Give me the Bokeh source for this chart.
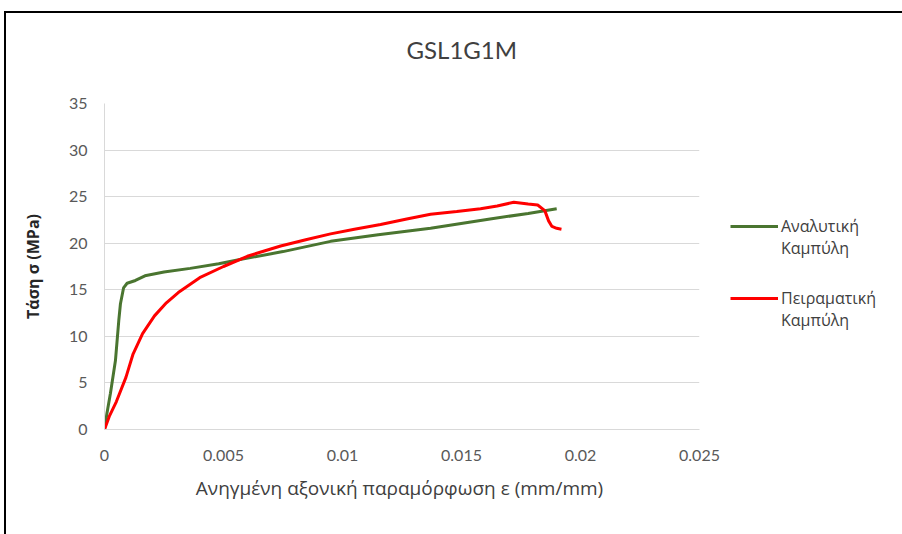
from bokeh.plotting import figure
from bokeh.models import Legend, LegendItem, FixedTicker, NumeralTickFormatter, Title
from bokeh.embed import file_html
from bokeh.resources import INLINE

# ---- data ----
green_x = [0, 0.0001, 0.00025, 0.00046, 0.0006, 0.00067, 0.0008, 0.00095, 0.0013, 0.0017,
           0.0025, 0.0036, 0.0048, 0.0058, 0.0075, 0.0095, 0.0115, 0.0137, 0.0162, 0.0178, 0.0190]
green_y = [0, 1.7, 3.9, 7.4, 11.7, 13.5, 15.2, 15.7, 16.0, 16.5,
           16.9, 17.3, 17.8, 18.3, 19.1, 20.2, 20.9, 21.6, 22.6, 23.2, 23.7]

red_x = [0, 0.0002, 0.0005, 0.0009, 0.0012, 0.0016, 0.0021, 0.0026, 0.0031, 0.004,
         0.005, 0.006, 0.0074, 0.0085, 0.0095, 0.0105, 0.0116, 0.0127, 0.0137, 0.0148,
         0.0158, 0.0165, 0.0172, 0.0178, 0.0182, 0.0185, 0.01866, 0.0188, 0.019, 0.0192]
red_y = [0, 1.4, 3.0, 5.6, 8.1, 10.3, 12.2, 13.6, 14.7, 16.3,
         17.5, 18.6, 19.7, 20.4, 21.0, 21.5, 22.0, 22.6, 23.1, 23.4,
         23.7, 24.0, 24.4, 24.2, 24.1, 23.5, 22.4, 21.8, 21.6, 21.5]

x_ticks = [0, 0.005, 0.01, 0.015, 0.02, 0.025]
y_ticks = [0, 5, 10, 15, 20, 25, 30, 35]

title_text = "GSL1G1M"
x_label = "Ανηγμένη  αξονική παραμόρφωση ε (mm/mm)"
y_label = "Τάση σ (MPa)"
series_names = ["Αναλυτική\nΚαμπύλη", "Πειραματική\nΚαμπύλη"]

FONT = "Lato"
GFONT = "Open Sans"

p = figure(width=908, height=521, output_backend="svg", toolbar_location=None,
           x_range=(0, 0.025), y_range=(0, 35),
           frame_width=595, frame_height=326,
           min_border_left=98, min_border_top=90, min_border_bottom=105, min_border_right=215)
p.styles = {"border-left": "2px solid #000", "border-top": "2px solid #000",
            "margin-left": "4px", "margin-top": "11px"}

# spacer between frame and title, then the title itself
p.add_layout(Title(text=" ", text_font_size="10px", standoff=8), "above")
p.add_layout(Title(text=title_text, align="left", offset=302, standoff=37,
                   text_font=FONT, text_font_size="24px", text_font_style="normal",
                   text_color="#404040"), "above")

p.outline_line_color = None
p.background_fill_color = "white"
p.border_fill_color = "white"

p.xgrid.grid_line_color = None
p.ygrid.grid_line_color = "#d9d9d9"
p.ygrid.grid_line_width = 1
p.yaxis.ticker = FixedTicker(ticks=y_ticks)
p.xaxis.ticker = FixedTicker(ticks=x_ticks)
p.xaxis.formatter = NumeralTickFormatter(format="0.[000]")

for ax in (p.xaxis, p.yaxis):
    ax.axis_line_color = "#d9d9d9"
    ax.major_tick_line_color = None
    ax.minor_tick_line_color = None
    ax.major_tick_out = 0
    ax.major_tick_in = 0
    ax.minor_tick_out = 0
    ax.major_label_text_font = FONT
    ax.major_label_text_font_size = "16px"
    ax.major_label_text_color = "#595959"
    ax.axis_label_text_font = GFONT
    ax.axis_label_text_color = "#404040"

p.yaxis.major_label_standoff = 17
p.xaxis.major_label_standoff = 20
p.xaxis.axis_label = x_label
p.xaxis.axis_label_text_font_size = "19px"
p.xaxis.axis_label_text_font_style = "normal"
p.xaxis.axis_label_standoff = 11
p.yaxis.axis_label = y_label
p.yaxis.axis_label_text_font_size = "16px"
p.yaxis.axis_label_text_font_style = "bold"
p.yaxis.axis_label_text_color = "#262626"
p.yaxis.axis_label_standoff = 22

g = p.line(green_x, green_y, line_color="#4a7530", line_width=3)
r = p.line(red_x, red_y, line_color="#ff0000", line_width=3)

legend = Legend(items=[LegendItem(label="\n" + series_names[0], renderers=[g]),
                       LegendItem(label="\n" + series_names[1], renderers=[r])],
                location=(31, 98), glyph_width=48, glyph_height=20,
                label_text_font=GFONT, label_text_font_size="16px",
                label_text_line_height=1.95,
                label_text_color="#404040", spacing=6, margin=0, padding=10,
                border_line_color=None, background_fill_alpha=0, label_standoff=3)
p.add_layout(legend, "right")

open("out.html", "w").write(file_html(p, INLINE))
